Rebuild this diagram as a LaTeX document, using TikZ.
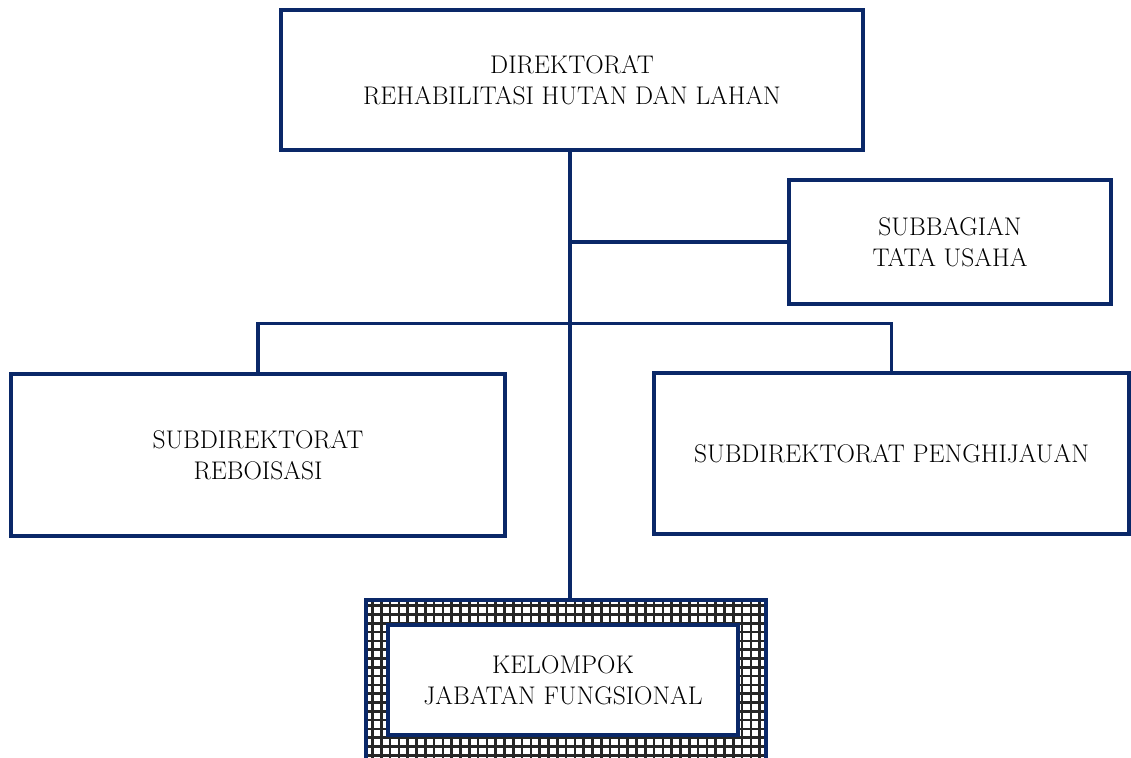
\documentclass[tikz,border=0pt]{standalone}
\usetikzlibrary{positioning}
\definecolor{navy}{RGB}{10,40,104}

\begin{document}
\begin{tikzpicture}[x=1pt,y=1pt,
	line width=3.4pt,
	unitbox/.style={draw=navy, line width=3.4pt, fill=white, align=center, inner sep=0pt,
		font=\fontsize{25.5}{31}\selectfont},
	orgline/.style={draw=navy, line width=3.4pt}]
	
	\useasboundingbox (0,0) rectangle (1131,-757);
	
	% boxes
	\node [unitbox, minimum width=582, minimum height=140] (dir) at (572,-80)
		{DIREKTORAT\\REHABILITASI HUTAN DAN LAHAN};
	\node [unitbox, minimum width=322, minimum height=124] (tu) at (950,-242)
		{SUBBAGIAN\\TATA USAHA};
	\node [unitbox, minimum width=494, minimum height=162] (reb) at (258,-455)
		{SUBDIREKTORAT\\REBOISASI};
	\node [unitbox, minimum width=475, minimum height=161] (peng) at (891.5,-453.5)
		{SUBDIREKTORAT PENGHIJAUAN};
	
	% fungsional, hatched frame
	\node [draw=navy, line width=3.4pt, minimum width=400, minimum height=240, inner sep=0pt,
		path picture={\draw [black!85, line width=2.6pt]
			(path picture bounding box.south west) grid [step=8.8pt] (path picture bounding box.north east);}]
		(kjfo) at (566,-720) {};
	\node [unitbox, minimum width=350, minimum height=110] (kjf) at (563,-680)
		{KELOMPOK\\JABATAN FUNGSIONAL};
	
	% connectors
	\draw [orgline] (dir.south) ++(-2,0) coordinate (top) -- (top |- kjfo.north);
	\draw [orgline] (top |- tu.west) -- (tu.west);
	\draw [orgline] (reb.north) -- ++(0,49) coordinate (bus) -| (peng.north);
	
\end{tikzpicture}
\end{document}
